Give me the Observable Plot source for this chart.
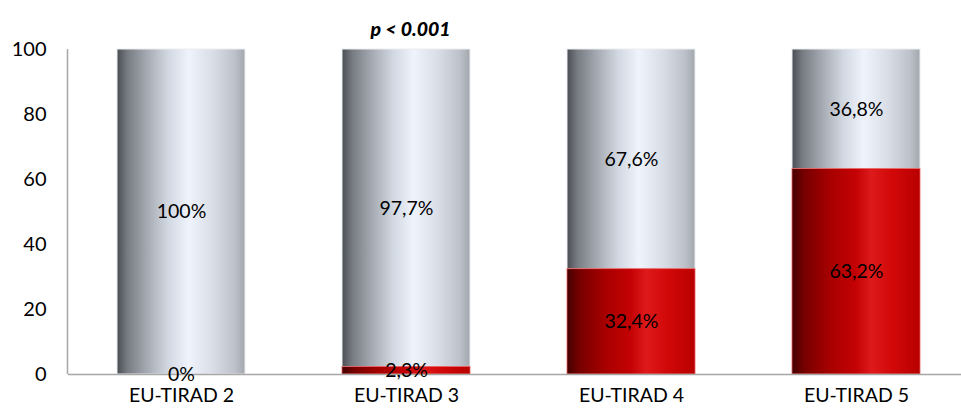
<!DOCTYPE html>
<html>
<head>
<meta charset="utf-8">
<script src="https://cdn.jsdelivr.net/npm/d3@7"></script>
<script src="https://cdn.jsdelivr.net/npm/@observablehq/plot@0.6"></script>
<style>
  html, body { margin: 0; padding: 0; background: #fff; }
  #chart { width: 961px; height: 415px; }
</style>
</head>
<body>
<div id="chart"></div>
<script>
const categories = ["EU-TIRAD 2", "EU-TIRAD 3", "EU-TIRAD 4", "EU-TIRAD 5"];
const malignant = [0, 2.3, 32.4, 63.2];
const benign = [100, 97.7, 67.6, 36.8];
const yTicks = [0, 20, 40, 60, 80, 100];
const title = "p < 0.001";

const fmt = v => String(v).replace(".", ",") + "%";
const redRows = categories.map((c, i) => ({cat: c, y1: 0, y2: malignant[i], label: fmt(malignant[i])}));
const grayRows = categories.map((c, i) => ({cat: c, y1: malignant[i], y2: malignant[i] + benign[i], label: fmt(benign[i])}));

const defs = () => {
  const g = d3.create("svg:defs");
  g.html(`
    <linearGradient id="gGray" x1="0" x2="1" y1="0" y2="0">
      <stop offset="0" stop-color="#4a4d52"/>
      <stop offset="0.08" stop-color="#777b82"/>
      <stop offset="0.22" stop-color="#a1a6ae"/>
      <stop offset="0.40" stop-color="#d2d8e1"/>
      <stop offset="0.56" stop-color="#eef3fc"/>
      <stop offset="0.75" stop-color="#d8dde6"/>
      <stop offset="0.92" stop-color="#bdc2ca"/>
      <stop offset="1" stop-color="#a2a6ad"/>
    </linearGradient>
    <linearGradient id="gRed" x1="0" x2="1" y1="0" y2="0">
      <stop offset="0" stop-color="#450000"/>
      <stop offset="0.10" stop-color="#780000"/>
      <stop offset="0.30" stop-color="#a80000"/>
      <stop offset="0.50" stop-color="#c40204"/>
      <stop offset="0.62" stop-color="#de1a1b"/>
      <stop offset="0.78" stop-color="#d20808"/>
      <stop offset="1" stop-color="#b80000"/>
    </linearGradient>`);
  return g.node();
};

const plot = Plot.plot({
  width: 961,
  height: 415,
  marginLeft: 68,
  marginRight: 0,
  marginTop: 49,
  marginBottom: 41,
  style: {fontFamily: "Lato, sans-serif", fontSize: "19px", color: "#000", background: "#fff"},
  x: {domain: categories, range: [68, 969], paddingInner: 0.43, paddingOuter: 0.213, label: null},
  y: {domain: [0, 100], ticks: yTicks, label: null},
  marks: [
    defs,
    Plot.barY(grayRows, {x: "cat", y1: "y1", y2: "y2", fill: "url(#gGray)", stroke: "#eceef2", strokeWidth: 1, insetLeft: 0, insetRight: 0}),
    Plot.barY(redRows, {x: "cat", y1: "y1", y2: "y2", fill: "url(#gRed)", stroke: "#e86060", strokeWidth: 0.8, insetLeft: 0, insetRight: 0}),
    Plot.ruleY([0], {stroke: "#a6a6a6", strokeWidth: 1.5}),
    Plot.text(grayRows, {x: "cat", y: d => (d.y1 + d.y2) / 2, text: "label", fill: "#000", fontSize: 19.5}),
    Plot.text(redRows, {x: "cat", y: d => (d.y1 + d.y2) / 2, text: "label", fill: "#000", fontSize: 19.5}),
    Plot.text([title], {x: () => categories[1], frameAnchor: "top", dy: -27, dx: 4, text: d => d, fontWeight: "900", fontStyle: "italic", fontSize: 19.5, fill: "#000"}),
    Plot.axisY({ticks: yTicks, tickSize: 0, tickPadding: 22, fontSize: 20, label: null}),
    Plot.axisX({tickSize: 0, tickPadding: 14, fontSize: 19.5, label: null})
  ]
});

// left axis line
const ys = plot.scale("y");
d3.select(plot).append("line")
  .attr("x1", 67.5).attr("x2", 67.5)
  .attr("y1", ys.apply(100)).attr("y2", ys.apply(0))
  .attr("stroke", "#a6a6a6").attr("stroke-width", 1.5);

document.getElementById("chart").appendChild(plot);
</script>
</body>
</html>
